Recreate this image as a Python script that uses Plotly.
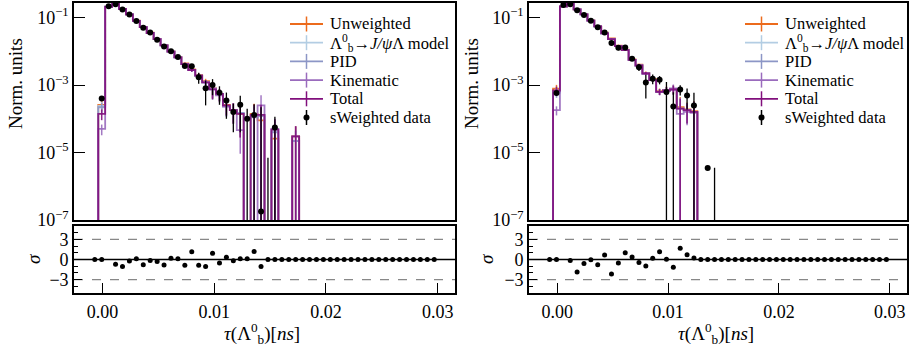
import plotly.graph_objects as go

# ---------------- data ----------------
BIN_LO = -0.001
BIN_W = 0.00062
N_BINS = 50

SERIES = ["Unweighted", "Λ<sup>0</sup><sub>b</sub>→<i>J/ψ</i>Λ model", "PID", "Kinematic", "Total"]
COLORS = ["#ec6b1c", "#b3cde3", "#8c96c6", "#9a6bbd", "#810f7c"]
DATA_LABEL = "sWeighted data"

# left panel: normalised histograms (bin index 0..)
L_unw = [0, 2.6e-4, 0.205, 0.25, 0.178, 0.124, 0.081, 0.053, 0.036, 0.0235, 0.0152, 0.0100, 0.0068, 0.0044, 0.0029,
         0.0020, 0.0013, 8.0e-4, 5.5e-4, 2.6e-4, 1.8e-4, 1.4e-4, 0, 1.4e-4, 9.0e-5, 0, 2.6e-5, 0, 0, 3.0e-5]
L_model = [0, 2.4e-4, 0.208, 0.253, 0.179, 0.125, 0.080, 0.052, 0.035, 0.023, 0.0150, 0.0098, 0.0066, 0.0042, 0.0028,
           0.0019, 0.0012, 7.5e-4, 5.5e-4, 2.3e-4, 1.8e-4, 1.5e-4, 0, 1.2e-4, 1.3e-4, 0, 4.5e-5, 0, 0, 2.2e-5]
L_pid = [0, 2.2e-4, 0.208, 0.253, 0.179, 0.125, 0.080, 0.052, 0.035, 0.023, 0.0150, 0.0098, 0.0066, 0.0042, 0.0028,
         0.0019, 0.0012, 7.5e-4, 5.5e-4, 2.4e-4, 1.8e-4, 1.5e-4, 0, 1.1e-4, 1.2e-4, 0, 4.0e-5, 0, 0, 2.2e-5]
L_kin = [0, 5.0e-5, 0.21, 0.256, 0.18, 0.125, 0.080, 0.052, 0.035, 0.023, 0.0150, 0.0098, 0.0066, 0.0042, 0.0028,
         0.0019, 0.0012, 8.0e-4, 5.0e-4, 2.3e-4, 1.8e-4, 4.6e-5, 0, 0, 2.5e-4, 0, 5.0e-5, 0, 0, 3.0e-5]
L_total = [0, 1.4e-4, 0.21, 0.255, 0.18, 0.125, 0.080, 0.052, 0.035, 0.023, 0.0150, 0.0098, 0.0066, 0.0042, 0.0028,
           0.0019, 0.0012, 7.5e-4, 5.5e-4, 2.5e-4, 1.8e-4, 1.4e-4, 0, 1.3e-4, 1.3e-4, 0, 4.8e-5, 0, 0, 3.0e-5]
L_mc_relerr = [0, 0.35, 0.01, 0.01, 0.012, 0.015, 0.02, 0.025, 0.03, 0.035, 0.045, 0.055, 0.07, 0.09, 0.11,
               0.14, 0.18, 0.5, 0.4, 0.5, 0.6, 0.8, 1, 1, 1, 1, 1, 1, 1, 1]
L_data = [None, 4.0e-4, 0.216, 0.25, 0.174, 0.123, 0.079, 0.050, 0.036, 0.022, 0.014, 0.010, 0.0068, 0.0037, 0.0036,
          0.0017, 8.0e-4, 1.0e-3, 5.9e-4, 3.5e-4, 1.6e-4, 2.6e-4, 1.0e-4, 1.3e-4, 1.8e-7, 5e-8, 5.5e-5]
L_data_err = [None, 3e-5, 0.004, 0.004, 0.0035, 0.003, 0.002, 0.0015, 0.0012, 0.001, 8e-4, 6e-4, 4e-4, 3.5e-4, 3.5e-4,
              6e-4, 5.5e-4, 5e-4, 3.3e-4, 2.5e-4, 1.2e-4, 2.2e-4, 1.0e-4, 1.4e-4, 2.2e-4, 7e-6, 6e-5]
L_pull = [0, 0, None, -0.72, -1.06, -0.24, 0.10, -0.77, -0.14, -0.29, -0.82, 0.19, 0.10, -0.87, 1.16,
          -0.87, -1.06, 0.92, -0.53, 0.34, -0.19, 0.10, 0.10, 1.20, -1.06, 0, 0, 0, 0, 0,
          0, 0, 0, 0, 0, 0, 0, 0, 0, 0, 0, 0, 0, 0, 0, 0, 0, 0, 0, 0]

# right panel
R_unw = [0, 7.8e-4, 0.21, 0.255, 0.175, 0.126, 0.083, 0.056, 0.036, 0.024, 0.0148, 0.0112, 0.0058, 0.0040, 0.0023,
         0.0015, 6.6e-4, 7.2e-4, 7.6e-4, 2.2e-4, 1.9e-4, 1.7e-4]
R_model = [0, 6.5e-4, 0.213, 0.258, 0.175, 0.125, 0.081, 0.055, 0.034, 0.023, 0.0142, 0.0108, 0.0056, 0.0038, 0.0022,
           0.0014, 6.3e-4, 6.9e-4, 7.4e-4, 2.0e-4, 1.8e-4, 1.6e-4]
R_pid = [0, 6.0e-4, 0.213, 0.258, 0.175, 0.125, 0.081, 0.055, 0.034, 0.023, 0.0142, 0.0108, 0.0056, 0.0038, 0.0022,
         0.0014, 6.3e-4, 6.9e-4, 7.4e-4, 2.0e-4, 1.8e-4, 1.6e-4]
R_kin = [0, 1.8e-4, 0.215, 0.26, 0.175, 0.125, 0.081, 0.055, 0.034, 0.023, 0.0142, 0.0108, 0.0056, 0.0038, 0.0022,
         0.0014, 6.3e-4, 6.9e-4, 8.0e-4, 1.4e-4, 1.6e-4, 1.5e-4]
R_total = [0, 6.9e-4, 0.215, 0.26, 0.175, 0.125, 0.081, 0.055, 0.034, 0.023, 0.0142, 0.0108, 0.0056, 0.0038, 0.0022,
           0.0014, 6.3e-4, 6.9e-4, 7.4e-4, 2.0e-4, 1.8e-4, 1.6e-4]
R_mc_relerr = [0, 0.3, 0.01, 0.01, 0.012, 0.015, 0.02, 0.025, 0.03, 0.035, 0.045, 0.05, 0.07, 0.08, 0.1,
               0.12, 0.2, 0.25, 0.3, 1.0, 0.6, 1.0]
R_data = [None, 5.8e-4, 0.236, 0.25, 0.166, 0.12, 0.081, 0.052, 0.036, 0.0176, 0.0128, 0.013, 0.006, 0.0034, 0.0012,
          0.00155, 0.00145, 6.2e-4, 2.3e-4, 7.4e-4, 4.9e-4, 2.5e-4, None, 3.5e-6, 5e-8]
R_data_err = [None, 4e-5, 0.004, 0.004, 0.0035, 0.003, 0.0025, 0.002, 0.0015, 0.0025, 0.002, 0.002, 8e-4, 8e-4, 8e-4,
              5e-4, 4e-4, 6.2e-4, 3.8e-4, 2.5e-4, 3e-4, 3.4e-4, None, 2e-7, 3.5e-6]
R_pull = [0, 0, None, -0.15, -1.88, -0.58, -0.05, -0.77, 0.68, -2.17, -0.53, 1.0, 0.39, -0.43, -0.97,
          0.19, 1.16, 0.05, -1.16, 1.69, 0.72, 0.24, 0, 0, 0, 0, 0, 0, 0, 0,
          0, 0, 0, 0, 0, 0, 0, 0, 0, 0, 0, 0, 0, 0, 0, 0, 0, 0, 0, 0]

Y_TICKS = [1e-7, 1e-5, 1e-3, 1e-1]
Y_TICKTEXT = ["10<sup>−7</sup>", "10<sup>−5</sup>", "10<sup>−3</sup>", "10<sup>−1</sup>"]
X_TICKS = [0.0, 0.01, 0.02, 0.03]
X_TICKTEXT = ["0.00", "0.01", "0.02", "0.03"]
PULL_TICKS = [-3, 0, 3]
PULL_TICKTEXT = ["−3", "0", "3"]

# ---------------- helpers ----------------
edges = [BIN_LO + i * BIN_W for i in range(N_BINS + 1)]
centers = [BIN_LO + (i + 0.5) * BIN_W for i in range(N_BINS)]
FLOOR = 1e-12
FONT = "Liberation Serif"
W, H = 913, 349


def step_xy(vals):
    xs, ys = [edges[0]], [FLOOR]
    for i, v in enumerate(vals):
        h = v if v and v > 0 else FLOOR
        xs += [edges[i], edges[i + 1]]
        ys += [h, h]
    xs.append(edges[len(vals)])
    ys.append(FLOOR)
    return xs, ys


fig = go.Figure()

panels = [
    dict(xa="x", ya="y", xb="x2", yb="y2", hists=[L_unw, L_model, L_pid, L_kin, L_total], rel=L_mc_relerr,
         data=L_data, derr=L_data_err, pull=L_pull, off=0),
    dict(xa="x3", ya="y3", xb="x4", yb="y4", hists=[R_unw, R_model, R_pid, R_kin, R_total], rel=R_mc_relerr,
         data=R_data, derr=R_data_err, pull=R_pull, off=455),
]

shapes = []
ann = []
LEG_LINE = (290, 323)
LEG_TEXT_X = 328
LEG_ROW0 = 24
LEG_DY = 18.7

for p in panels:
    for name, col, vals in zip(SERIES, COLORS, p["hists"]):
        xs, ys = step_xy(vals)
        fig.add_trace(go.Scatter(x=xs, y=ys, mode="lines", line=dict(color=col, width=1.8),
                                 opacity=0.9, xaxis=p["xa"], yaxis=p["ya"], showlegend=False, hoverinfo="skip"))
        ex, ey, ee = [], [], []
        for i, v in enumerate(vals):
            if v and v > 0:
                ex.append(centers[i]); ey.append(v); ee.append(v * p["rel"][i])
        fig.add_trace(go.Scatter(x=ex, y=ey, mode="markers", marker=dict(size=0.1, color=col, opacity=0),
                                 error_y=dict(type="data", array=ee, visible=True, color=col, thickness=1.5, width=0),
                                 opacity=0.9, xaxis=p["xa"], yaxis=p["ya"], showlegend=False, hoverinfo="skip"))
    dx, dy, de = [], [], []
    for i, v in enumerate(p["data"]):
        if v is not None:
            dx.append(centers[i]); dy.append(v); de.append(p["derr"][i])
    fig.add_trace(go.Scatter(x=dx, y=dy, mode="markers", name=DATA_LABEL, showlegend=False,
                             marker=dict(size=6, color="black"),
                             error_y=dict(type="data", array=de, visible=True, color="black", thickness=1.3, width=0),
                             xaxis=p["xa"], yaxis=p["ya"]))
    fig.add_trace(go.Scatter(x=centers, y=p["pull"], mode="markers", marker=dict(size=5, color="black"),
                             xaxis=p["xb"], yaxis=p["yb"], showlegend=False, hoverinfo="skip"))
    for yv, dash, col, w in [(0, "solid", "black", 1.5), (3, "dash", "#888888", 1.2), (-3, "dash", "#888888", 1.2)]:
        shapes.append(dict(type="line", xref=p["xb"] + " domain", yref=p["yb"], x0=0, x1=1, y0=yv, y1=yv,
                           line=dict(color=col, width=w, dash=dash), layer="below"))

    # hand-drawn legend (errorbar-style handles)
    o = p["off"]
    labels = SERIES + [DATA_LABEL]
    cols = COLORS + ["black"]
    for r, (lab, col) in enumerate(zip(labels, cols)):
        yy = LEG_ROW0 + r * LEG_DY
        xc = (LEG_LINE[0] + LEG_LINE[1]) / 2 + o
        if r < len(SERIES):
            shapes.append(dict(type="line", xref="paper", yref="paper", x0=(LEG_LINE[0] + o) / W,
                               x1=(LEG_LINE[1] + o) / W, y0=1 - yy / H, y1=1 - yy / H, line=dict(color=col, width=1.8)))
        else:
            shapes.append(dict(type="circle", xref="paper", yref="paper", x0=(xc - 3) / W, x1=(xc + 3) / W,
                               y0=1 - (yy + 3) / H, y1=1 - (yy - 3) / H, fillcolor="black",
                               line=dict(color="black", width=0)))
        shapes.append(dict(type="line", xref="paper", yref="paper", x0=xc / W, x1=xc / W,
                           y0=1 - (yy - 7.5) / H, y1=1 - (yy + 7.5) / H, line=dict(color=col, width=1.5)))
        ann.append(dict(text=lab, x=(LEG_TEXT_X + o) / W, y=1 - yy / H, xref="paper", yref="paper",
                        showarrow=False, xanchor="left", yanchor="middle",
                        font=dict(family=FONT, size=16.5, color="black")))

XR = [-0.00255, 0.03155]
LDOM = [74 / W, 455 / W]
RDOM = [529 / W, 907 / W]
TOPDOM = [1 - 220 / H, 1 - 3 / H]
BOTDOM = [1 - 293 / H, 1 - 226 / H]

frame = dict(showline=True, linecolor="black", linewidth=1.6, mirror=True, showgrid=False, zeroline=False,
             automargin=False, tickfont=dict(family=FONT, size=18, color="black"))

for xa, ya, xb, yb, dom in [("xaxis", "yaxis", "xaxis2", "yaxis2", LDOM), ("xaxis3", "yaxis3", "xaxis4", "yaxis4", RDOM)]:
    ynum = ya[5:] or ""
    ybnum = yb[5:]
    xnum = xa[5:] or ""
    xbnum = xb[5:]
    fig.update_layout(**{
        xa: dict(frame, domain=dom, range=XR, anchor="y" + ynum, showticklabels=False, ticks="",
                 matches="x" + xbnum),
        ya: dict(frame, domain=TOPDOM, type="log", range=[-7, -0.567], anchor="x" + xnum, tickvals=Y_TICKS,
                 ticktext=Y_TICKTEXT, ticks="inside", ticklen=11, tickwidth=1.2, tickcolor="black"),
        xb: dict(frame, domain=dom, range=XR, anchor="y" + ybnum, tickvals=X_TICKS, ticktext=X_TICKTEXT,
                 ticks="inside", ticklen=10, tickwidth=1.2, tickcolor="black", ticklabelstandoff=2),
        yb: dict(frame, domain=BOTDOM, range=[-5, 5], anchor="x" + xbnum, tickvals=PULL_TICKS,
                 ticktext=PULL_TICKTEXT, ticks="inside", ticklen=8, tickwidth=1.2, tickcolor="black",
                 minor=dict(tickmode="linear", tick0=0, dtick=1, ticks="inside", ticklen=4, tickcolor="black",
                            tickwidth=1)),
    })

XTITLE = "<i>τ</i>(Λ<sup>0</sup><sub>b</sub>)[<i>ns</i>]"
YTITLE = "Norm. units"
PTITLE = "<i>σ</i>"
for cx, ty, px in [(262, 16, 33), (716, 472, 486)]:
    ann.append(dict(text=XTITLE, x=cx / W, y=1 - 333 / H, xref="paper", yref="paper", showarrow=False,
                    font=dict(family=FONT, size=19, color="black"), xanchor="center", yanchor="middle"))
    ann.append(dict(text=YTITLE, x=ty / W, y=1 - 84 / H, xref="paper", yref="paper", showarrow=False,
                    textangle=-90, font=dict(family=FONT, size=19, color="black"), xanchor="center", yanchor="middle"))
    ann.append(dict(text=PTITLE, x=px / W, y=1 - 259 / H, xref="paper", yref="paper", showarrow=False,
                    textangle=-90, font=dict(family=FONT, size=19, color="black"), xanchor="center", yanchor="middle"))

fig.update_layout(width=W, height=H, margin=dict(l=0, r=0, t=0, b=0, pad=0, autoexpand=False),
                  plot_bgcolor="white", paper_bgcolor="white", annotations=ann, shapes=shapes, showlegend=False,
                  font=dict(family=FONT, color="black"))

fig.write_html("out.html", config={"displayModeBar": False},
               post_script="document.body.style.margin='0';document.body.style.overflow='hidden';")
